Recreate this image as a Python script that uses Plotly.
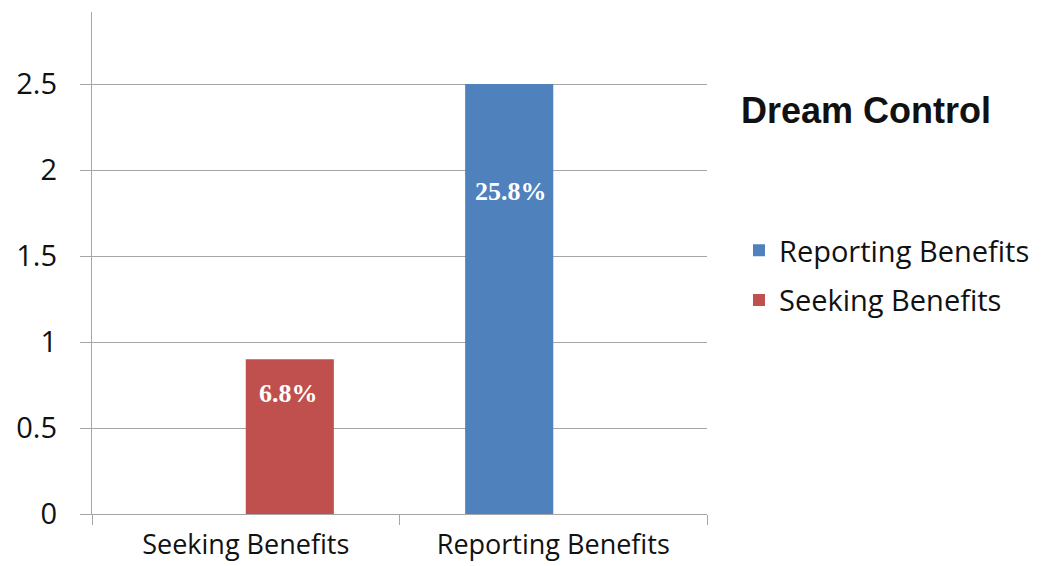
import plotly.graph_objects as go

# Chart data
categories = ["Seeking Benefits", "Reporting Benefits"]
reporting_values = [0, 2.5]
seeking_values = [0.9, 0]
reporting_labels = ["", "25.8%"]
seeking_labels = ["6.8%", ""]
y_ticks = [0, 0.5, 1, 1.5, 2, 2.5]
y_tick_text = ["0", "0.5", "1", "1.5", "2", "2.5"]

BLUE = "#4F81BD"
RED = "#C0504D"
GRID = "#A6A6A6"
TICK_FONT = "Open Sans"

fig = go.Figure()
fig.add_trace(go.Bar(name="Reporting Benefits", x=categories, y=reporting_values,
                     marker=dict(color=BLUE, line=dict(width=0)),
                     legendgroup="rep"))
fig.add_trace(go.Bar(name="Seeking Benefits", x=categories, y=seeking_values,
                     marker=dict(color=RED, line=dict(width=0)),
                     legendgroup="seek"))

# Percent labels placed inside the top of each bar
label_font = dict(family="Liberation Serif", size=26, color="white")
for cat, val, lab in zip(categories, reporting_values, reporting_labels):
    if lab:
        fig.add_annotation(x=cat, y=val, text=f"<b>{lab}</b>", showarrow=False,
                           xshift=-42, yshift=-107, font=label_font)
for cat, val, lab in zip(categories, seeking_values, seeking_labels):
    if lab:
        fig.add_annotation(x=cat, y=val, text=f"<b>{lab}</b>", showarrow=False,
                           xshift=43, yshift=-34, font=label_font)

fig.update_layout(
    width=1057, height=566,
    margin=dict(l=92, r=350, t=12, b=52, pad=0),
    paper_bgcolor="white", plot_bgcolor="white",
    barmode="group", bargap=0.427, bargroupgap=0,
    title=dict(text="<b>Dream Control</b>", x=741 / 1057, y=1 - 110 / 566,
               xanchor="left", yanchor="middle", xref="container", yref="container",
               font=dict(family="Liberation Sans", size=36, color="#111111")),
    legend=dict(x=1.052, y=0.576, xanchor="left", yanchor="top",
                font=dict(family=TICK_FONT, size=29, color="#111111"),
                tracegroupgap=9, itemwidth=30, bgcolor="rgba(0,0,0,0)"),
    showlegend=True,
)

fig.update_xaxes(
    showline=True, linecolor=GRID, linewidth=1.3,
    ticks="outside", tickson="boundaries", ticklen=10, tickcolor=GRID, tickwidth=1.3,
    tickfont=dict(family=TICK_FONT, size=27, color="#111111"),
    ticklabelstandoff=6, automargin=False,
    showgrid=False, zeroline=False, fixedrange=True,
)
fig.update_yaxes(
    range=[0, 2.919], tickvals=y_ticks, ticktext=y_tick_text,
    showline=True, linecolor=GRID, linewidth=1.3,
    ticks="outside", ticklen=11, tickcolor=GRID, tickwidth=1.3,
    showgrid=True, gridcolor=GRID, gridwidth=1.3, zeroline=False,
    tickfont=dict(family=TICK_FONT, size=29, color="#111111"),
    ticklabelstandoff=17, automargin=False,
)

fig.write_html("out.html")
